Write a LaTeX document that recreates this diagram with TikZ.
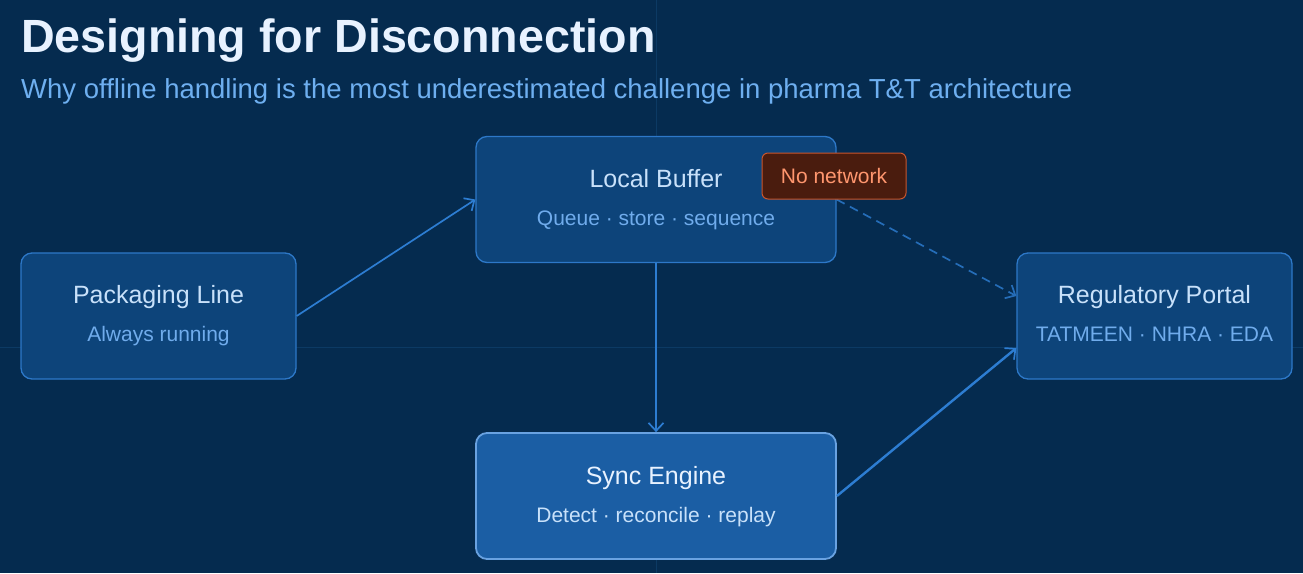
\documentclass[tikz,border=0pt]{standalone}
\usepackage{fontspec}
\setmainfont{Liberation Sans}
\usepackage{xcolor}
\usetikzlibrary{arrows.meta, positioning, calc}

\definecolor{bgnavy}{RGB}{5,43,79}
\definecolor{gridline}{RGB}{12,58,100}
\definecolor{boxfill}{RGB}{13,68,122}
\definecolor{boxline}{RGB}{45,120,200}
\definecolor{syncfill}{RGB}{27,94,164}
\definecolor{syncline}{RGB}{105,162,225}
\definecolor{titletext}{RGB}{232,242,255}
\definecolor{subtext}{RGB}{110,175,240}
\definecolor{nodetext}{RGB}{200,225,250}
\definecolor{nodesub}{RGB}{112,172,236}
\definecolor{flowline}{RGB}{45,125,210}
\definecolor{badgefill}{RGB}{74,28,14}
\definecolor{badgeline}{RGB}{200,85,45}
\definecolor{badgetext}{RGB}{255,150,110}

\begin{document}
\begin{tikzpicture}[
    x=1pt, y=-1pt,
    box/.style={draw=boxline, fill=boxfill, line width=1.3pt, rounded corners=11pt,
        minimum width=275pt, minimum height=126pt, inner sep=0pt},
    widebox/.style={box, minimum width=360pt},
    ttl/.style={text=nodetext, font=\fontsize{25}{30}\selectfont, anchor=base},
    sub/.style={text=nodesub, font=\fontsize{21}{25}\selectfont, anchor=base},
    flow/.style={draw=flowline, line width=1.7pt, -{Straight Barb[length=8pt, width=15pt, line width=1.7pt]}}
]

% background and faint guides
\useasboundingbox (0,0) rectangle (1303,573);
\fill[bgnavy] (0,0) rectangle (1303,573);
\draw[gridline, line width=1pt] (656,0) -- (656,573);
\draw[gridline, line width=1pt] (0,347) -- (1303,347);

% heading
\node[anchor=base west, inner sep=0pt, text=titletext, font=\fontsize{46.6}{54}\selectfont\bfseries] (title) at (21,52) {Designing for Disconnection};
\node[anchor=base west, inner sep=0pt, text=subtext, font=\fontsize{27.5}{32}\selectfont] (subtitle) at (21,98) {Why offline handling is the most underestimated challenge in pharma T\&T architecture};

% boxes
\node[box] (pl) at (158.5,316) {};
\node[widebox] (lb) at (656,199.5) {};
\node[widebox, fill=syncfill, draw=syncline, line width=1.8pt] (se) at (656,496) {};
\node[box] (rp) at (1154.5,316) {};

\node[ttl] (plt) at (158.5,303) {Packaging Line};
\node[sub] (pls) at (158.5,341) {Always running};
\node[ttl] (lbt) at (656,187) {Local Buffer};
\node[sub] (lbs) at (656,225) {Queue · store · sequence};
\node[ttl, text=titletext] (set) at (656,484) {Sync Engine};
\node[sub, text=nodetext] (ses) at (656,522) {Detect · reconcile · replay};
\node[ttl] (rpt) at (1154.5,303) {Regulatory Portal};
\node[sub] (rps) at (1154.5,341) {TATMEEN · NHRA · EDA};

% connectors
\draw[flow] (pl.east) -- (lb.west);
\draw[flow] (lb.south) -- (se.north);
\draw[flow, draw=flowline!80!bgnavy, dash pattern=on 9pt off 6pt] (lb.east) -- ([yshift=20pt]rp.west);
\draw[flow, line width=2.4pt] (se.east) -- ([yshift=-32pt]rp.west);

% offline badge
\node[draw=badgeline, fill=badgefill, line width=1pt, rounded corners=6pt, minimum width=144pt, minimum height=46pt,
      text=badgetext, font=\fontsize{21}{25}\selectfont] (badge) at (834,176) {No network};

\end{tikzpicture}
\end{document}
